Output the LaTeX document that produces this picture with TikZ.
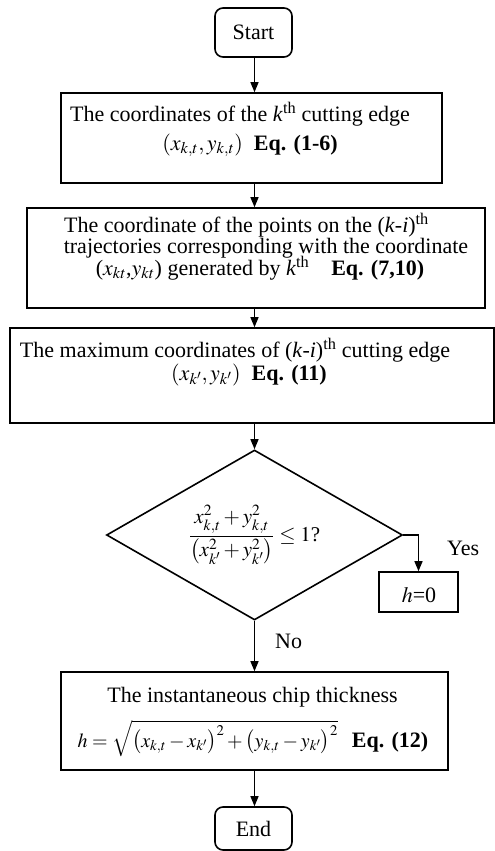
\documentclass[tikz,border=0pt]{standalone}
\usepackage{mathptmx}
\usepackage{fontspec}
\setmainfont{Liberation Serif}
\usetikzlibrary{arrows.meta,shapes.geometric}
\begin{document}
\begin{tikzpicture}[x=1pt,y=-1pt,
  box/.style={draw,line width=1.6pt,inner sep=0pt,anchor=center,font=\fontsize{22}{24}\selectfont},
  term/.style={box,rounded corners=8pt},
  txt/.style={anchor=base,inner sep=0pt,font=\fontsize{22}{24}\selectfont},
  arr/.style={line width=1.3pt,-{Triangle[length=10pt,width=8pt]}}]
\useasboundingbox (0,0) rectangle (495,851);
\coordinate (ax) at (254.5,0);
% boxes
\node[term,minimum width=77pt,minimum height=49pt] (start) at (253.5,32.5) {Start};
\node[box,minimum width=381pt,minimum height=90pt] (b1) at (251.5,138) {};
\node[box,minimum width=458pt,minimum height=100pt] (b2) at (256,258) {};
\node[box,minimum width=484pt,minimum height=95pt] (b3) at (252,375.5) {};
\node[draw,diamond,line width=1.6pt,inner sep=0pt,aspect=1.74,minimum width=296pt,minimum height=170pt,font=\fontsize{21}{23}\selectfont] (dec) at (254.5,535)
  {$\displaystyle\frac{x_{k,t}^2+y_{k,t}^2}{\left(x_{k'}^2+y_{k'}^2\right)}\le 1$?};
\node[box,minimum width=79pt,minimum height=40pt] (h0) at (418.5,592) {};
\node[box,minimum width=387pt,minimum height=98pt] (b4) at (254.5,721) {};
\node[term,minimum width=77pt,minimum height=43pt] (end) at (253.5,828.5) {End};
% texts
\node[txt] (t11) at (240,121) {The coordinates of the \textit{k}\textsuperscript{th} cutting edge};
\node[txt] (t12) at (250,150) {$(x_{k,t},y_{k,t})$\ \ \textbf{Eq. (1-6)}};
\node[txt] (t21) at (246.5,232) {The coordinate of the points on the (\textit{k}-\textit{i})\textsuperscript{th}};
\node[txt] (t22) at (266,253) {trajectories corresponding with the coordinate};
\node[txt] (t23) at (260,275) {($x_{kt}$,$y_{kt}$) generated by \textit{k}\textsuperscript{th}\quad\textbf{Eq. (7,10)}};
\node[txt] (t31) at (235,357) {The maximum coordinates of (\textit{k}-\textit{i})\textsuperscript{th} cutting edge};
\node[txt] (t32) at (249,380) {$(x_{k'},y_{k'})$\ \ \textbf{Eq. (11)}};
\node[txt] (th0) at (419,602) {$h$=0};
\node[txt] (t41) at (252.5,702) {The instantaneous chip thickness};
\node[txt] (t42) at (253,747) {{\fontsize{20}{22}\selectfont$h=\sqrt{\left(x_{k,t}-x_{k'}\right)^2+\left(y_{k,t}-y_{k'}\right)^2}$}\hspace{14pt}\textbf{Eq. (12)}};
\node[txt,anchor=base west] (yes) at (447,555) {Yes};
\node[txt,anchor=base west] (no) at (275,648) {No};
% connectors
\draw[arr] (ax |- start.south) -- (ax |- b1.north);
\draw[arr] (ax |- b1.south) -- (ax |- b2.north);
\draw[arr] (ax |- b2.south) -- (ax |- b3.north);
\draw[arr] (ax |- b3.south) -- (dec.north);
\draw[arr] (dec.east) -| (h0.north);
\draw[arr] (dec.south) -- (ax |- b4.north);
\draw[arr] (ax |- b4.south) -- (ax |- end.north);
\end{tikzpicture}
\end{document}
